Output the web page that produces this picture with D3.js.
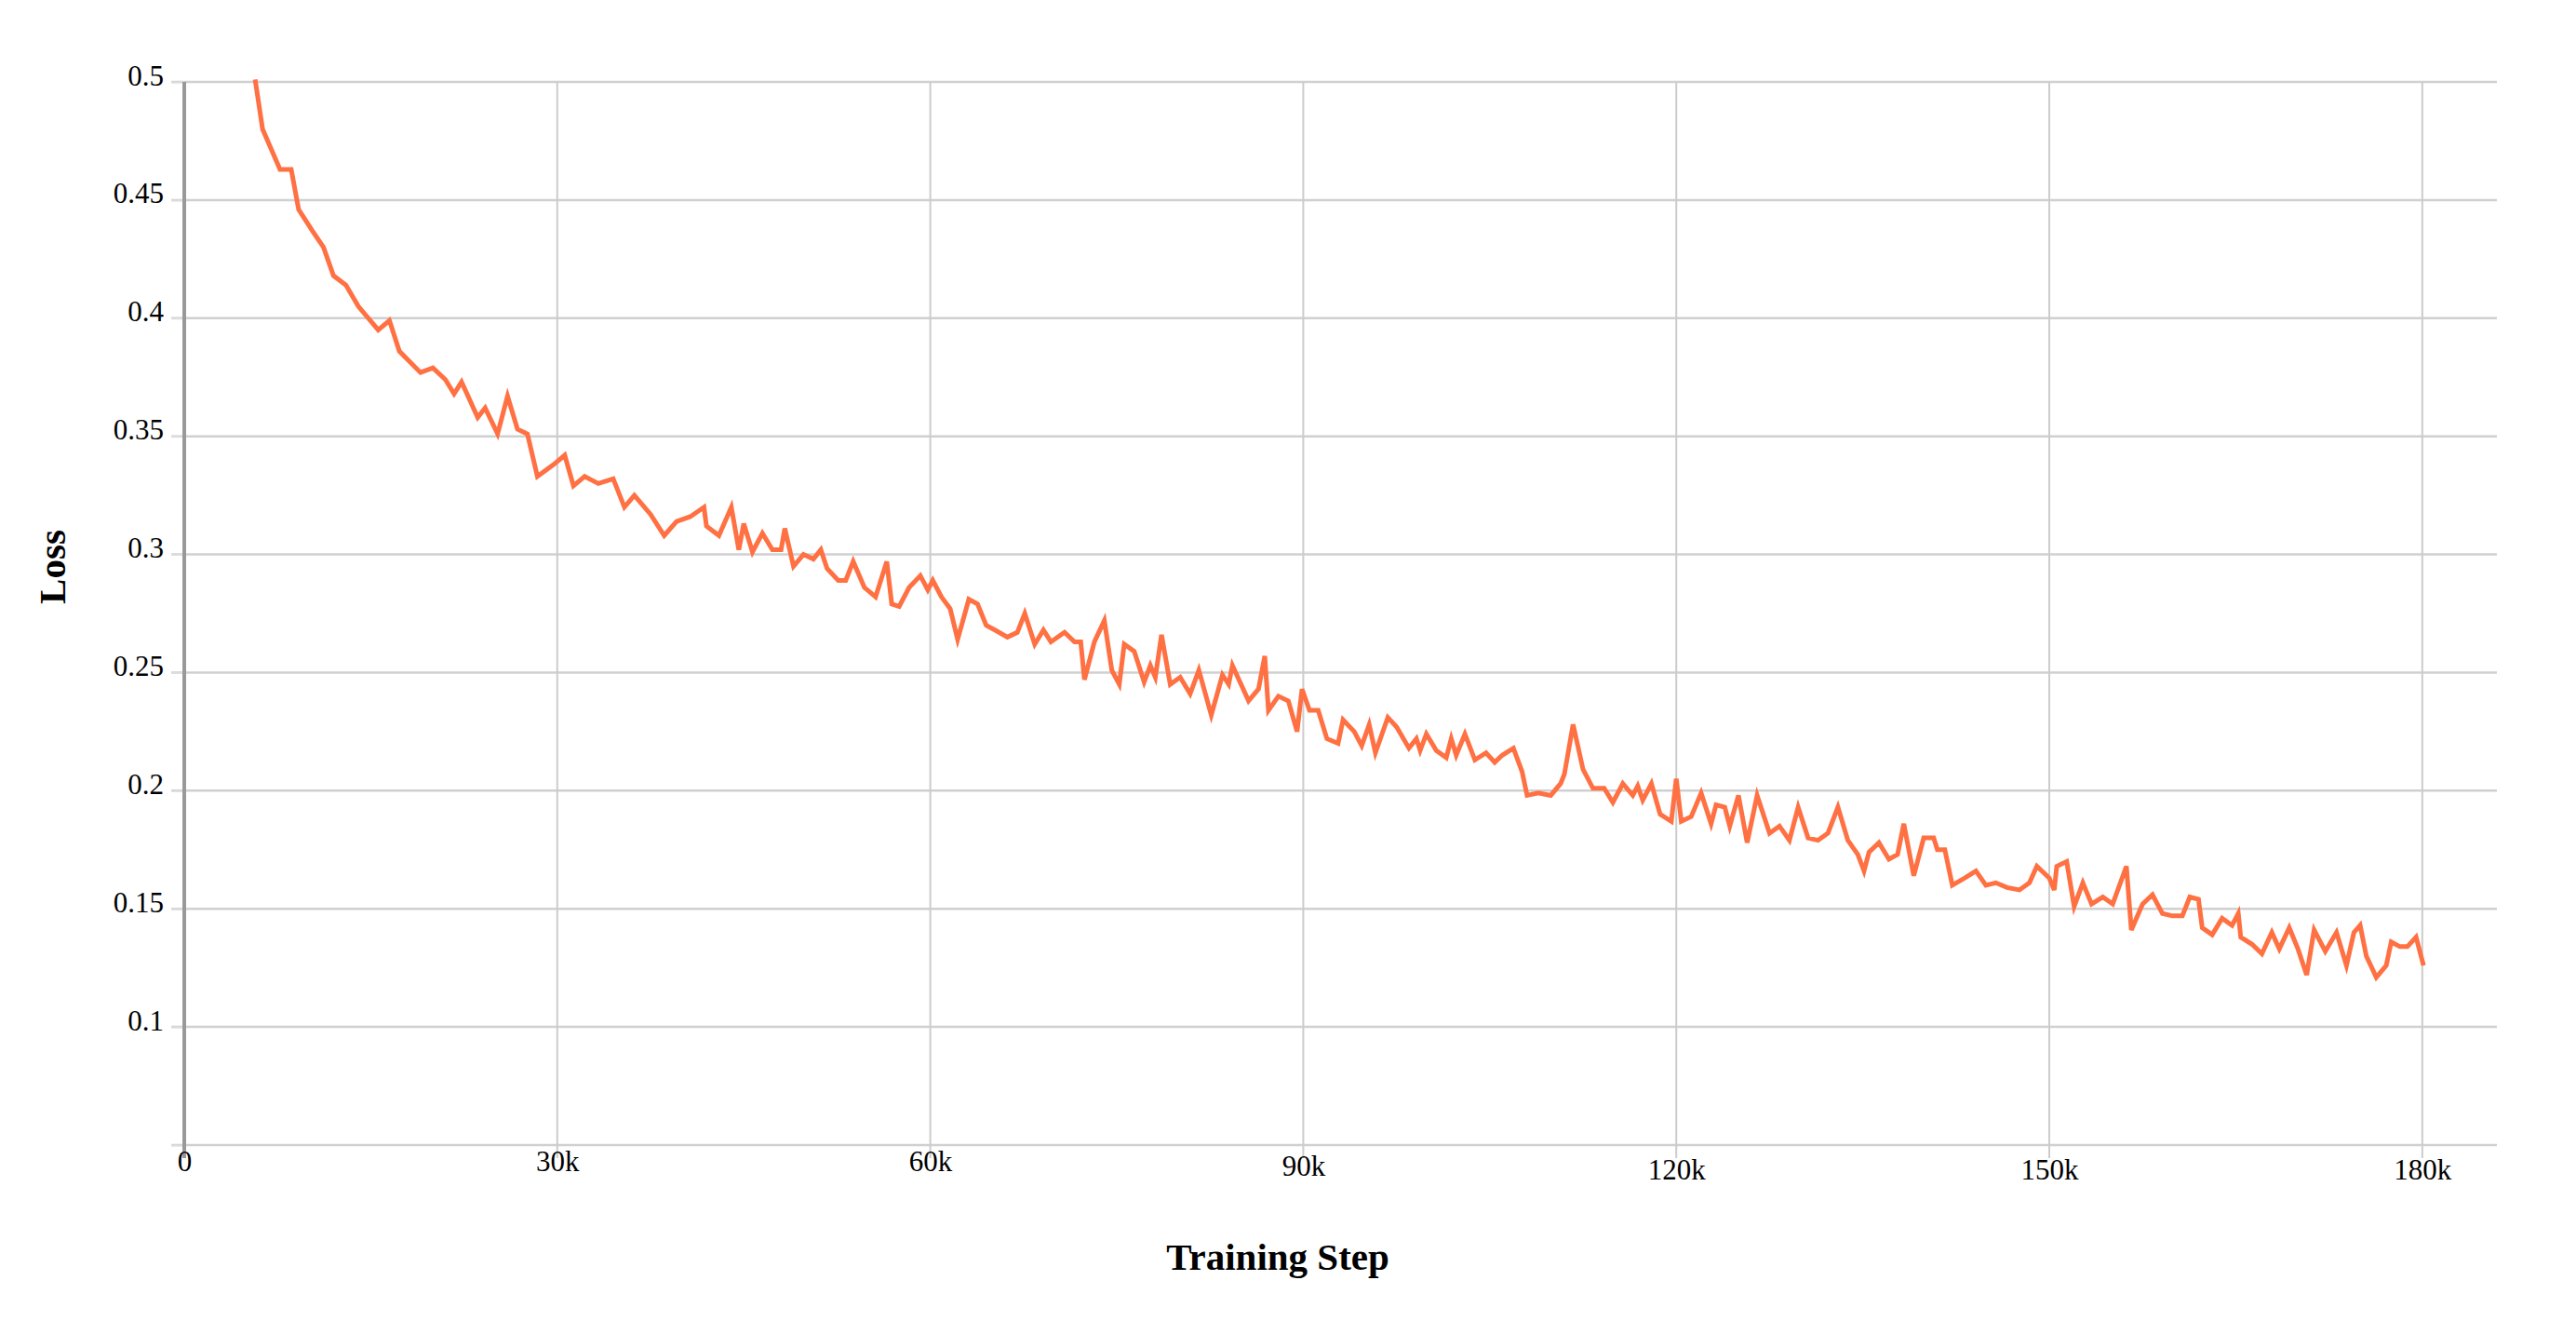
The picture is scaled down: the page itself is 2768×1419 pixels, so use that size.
<!DOCTYPE html>
<html>
<head>
<meta charset="utf-8">
<script src="https://cdn.jsdelivr.net/npm/d3@7"></script>
<style>
  body { margin: 0; background: #fff; }
  text { font-family: "Liberation Serif", "Times New Roman", serif; }
</style>
</head>
<body>
<div id="chart"></div>
<script>
// Training steps (thousands) and loss values
var steps = [5.7,6.3,7.7,8.6,9.2,10.3,11.2,12,13,14,15.6,16.5,17.3,19,20,21,21.7,22.3,23.6,24.2,25.2,26,26.8,27.6,28.4,29.7,30.6,31.3,32.2,33.3,34.5,35.4,36.2,37.5,38.6,39.6,40.7,41.8,42,43,44,44.6,45,45.7,46.5,47.3,48,48.3,49,49.8,50.6,51.2,51.7,52.6,53.2,53.8,54.7,55.6,56.5,56.9,57.5,58.3,59.2,59.8,60.2,60.9,61.6,62.2,63.1,63.8,64.5,65.2,66.2,67,67.6,68.4,69.1,69.7,70.8,71.6,72.1,72.4,73.2,74,74.6,75.2,75.6,76.4,77.2,77.7,78.1,78.6,79.3,80.1,80.9,81.6,82.6,83.5,84,84.3,85.6,86.4,86.9,87.2,88,88.8,89.5,89.9,90.5,91.2,91.9,92.8,93.2,94.1,94.7,95.3,95.8,96.8,97.5,98.5,99.1,99.4,99.9,100.7,101.5,101.9,102.3,103,103.8,104.7,105.4,106,106.9,107.6,108,108.9,109.9,110.7,111,111.7,112.5,113.3,114.2,114.9,115.7,116.5,116.9,117.3,118,118.7,119.6,120,120.4,121.2,122,122.8,123.2,123.9,124.3,125,125.7,126.5,127.5,128.3,129.1,129.8,130.6,131.4,132.2,133,133.8,134.6,135.1,135.5,136.3,137.1,137.8,138.3,139.1,139.9,140.7,141,141.6,142.2,143.2,144.1,144.9,145.7,146.6,147.6,148.4,149,150,150.4,150.6,151.4,152,152.7,153.4,154.3,155.1,156.2,156.6,157.5,158.3,159.1,159.9,160.7,161.3,162,162.3,163.1,163.9,164.7,165.2,165.4,166.3,167.1,167.9,168.5,169.3,170,170.7,171.3,172.2,173.1,173.9,174.5,175,175.5,176.3,177.1,177.5,178.2,178.8,179.5,180.1];
var losses = [0.501,0.48,0.463,0.463,0.446,0.437,0.43,0.418,0.414,0.405,0.395,0.399,0.386,0.377,0.379,0.374,0.368,0.373,0.358,0.362,0.351,0.367,0.353,0.351,0.333,0.338,0.342,0.329,0.333,0.330,0.332,0.320,0.325,0.317,0.308,0.314,0.316,0.320,0.312,0.308,0.320,0.302,0.313,0.301,0.309,0.302,0.302,0.311,0.295,0.300,0.298,0.302,0.294,0.289,0.289,0.297,0.286,0.282,0.297,0.279,0.278,0.286,0.291,0.285,0.289,0.282,0.277,0.264,0.281,0.279,0.270,0.268,0.265,0.267,0.275,0.262,0.268,0.263,0.267,0.263,0.263,0.247,0.263,0.272,0.251,0.245,0.262,0.259,0.246,0.253,0.248,0.266,0.245,0.248,0.241,0.251,0.232,0.249,0.245,0.253,0.238,0.243,0.257,0.234,0.240,0.238,0.225,0.243,0.234,0.234,0.222,0.220,0.230,0.225,0.219,0.228,0.216,0.231,0.227,0.218,0.222,0.217,0.224,0.217,0.214,0.222,0.215,0.224,0.213,0.216,0.212,0.215,0.218,0.208,0.198,0.199,0.198,0.203,0.207,0.228,0.209,0.201,0.201,0.195,0.203,0.198,0.202,0.196,0.203,0.190,0.187,0.205,0.187,0.189,0.199,0.186,0.194,0.193,0.185,0.198,0.178,0.198,0.182,0.185,0.179,0.193,0.180,0.179,0.182,0.193,0.179,0.173,0.166,0.174,0.178,0.171,0.173,0.186,0.164,0.180,0.180,0.175,0.175,0.160,0.163,0.166,0.160,0.161,0.159,0.158,0.161,0.168,0.163,0.158,0.168,0.170,0.151,0.161,0.152,0.155,0.152,0.168,0.141,0.152,0.156,0.148,0.147,0.147,0.155,0.154,0.142,0.139,0.146,0.143,0.148,0.138,0.135,0.131,0.140,0.133,0.142,0.133,0.122,0.141,0.132,0.140,0.126,0.140,0.143,0.130,0.121,0.126,0.136,0.134,0.134,0.138,0.126];
var xTicks = [0, 30, 60, 90, 120, 150, 180];
var yTicks = [0.05, 0.1, 0.15, 0.2, 0.25, 0.3, 0.35, 0.4, 0.45, 0.5];

var svgWidth = 2768;
var svgHeight = 1419;
var margin = { top: 88, right: 85, bottom: 189, left: 198 };
var width = svgWidth - margin.left - margin.right;
var height = svgHeight - margin.top - margin.bottom;

var svg = d3.select("#chart").append("svg")
  .attr("width", svgWidth)
  .attr("height", svgHeight);

var chartGroup = svg.append("g")
  .attr("transform", `translate(${margin.left}, ${margin.top})`);

var xScale = d3.scaleLinear().domain([0, 186]).range([0, width]);
var yScale = d3.scaleLinear().domain([0.05, 0.5]).range([height, 0]);

// Horizontal grid
chartGroup.selectAll(".hgrid")
  .data(yTicks)
  .enter()
  .append("line")
  .attr("x1", -14).attr("x2", width)
  .attr("y1", d => yScale(d)).attr("y2", d => yScale(d))
  .attr("stroke", "#d0d0d0")
  .attr("stroke-width", 2.5);

// Vertical grid
chartGroup.selectAll(".vgrid")
  .data(xTicks.slice(1))
  .enter()
  .append("line")
  .attr("x1", d => xScale(d)).attr("x2", d => xScale(d))
  .attr("y1", 0).attr("y2", height + 14)
  .attr("stroke", "#cccccc")
  .attr("stroke-width", 2);

// Y axis
var leftAxis = d3.axisLeft(yScale)
  .tickValues(yTicks)
  .tickSize(14)
  .tickPadding(8)
  .tickFormat(d => d === 0.05 ? "" : d3.format("")(+d.toFixed(2)));
var yAxis = chartGroup.append("g").call(leftAxis);
yAxis.select(".domain").remove();
yAxis.selectAll(".tick line").attr("stroke", "#dddddd").attr("stroke-width", 2);
yAxis.selectAll("text")
  .attr("font-family", "Liberation Serif")
  .attr("font-size", 31)
  .attr("fill", "#000")
  .attr("dy", "0.1em");

chartGroup.append("line")
  .attr("x1", 0).attr("x2", 0)
  .attr("y1", 0).attr("y2", height + 14)
  .attr("stroke", "#999")
  .attr("stroke-width", 4);

// X axis
var bottomAxis = d3.axisBottom(xScale)
  .tickValues(xTicks)
  .tickSize(0)
  .tickPadding(28)
  .tickFormat(d => d === 0 ? "0" : d + "k");
var xAxis = chartGroup.append("g")
  .attr("transform", `translate(0, ${height})`)
  .call(bottomAxis);
xAxis.select(".domain").remove();
xAxis.selectAll("text")
  .attr("font-family", "Liberation Serif")
  .attr("font-size", 31)
  .attr("fill", "#000")
  .attr("dy", (d, i) => (i < 3 ? 0 : i === 3 ? 5 : 9) + "px");

// Loss line
var line = d3.line()
  .x((d, i) => xScale(steps[i]))
  .y(d => yScale(d));

chartGroup.append("path")
  .datum(losses)
  .attr("d", line)
  .attr("fill", "none")
  .attr("stroke", "#ff7043")
  .attr("stroke-width", 5)
  .attr("stroke-linejoin", "miter");

// Axis titles
svg.append("text")
  .attr("x", 1373)
  .attr("y", 1364)
  .attr("text-anchor", "middle")
  .attr("font-weight", "bold")
  .attr("font-size", 41)
  .text("Training Step");

svg.append("text")
  .attr("transform", "translate(70, 609) rotate(-90)")
  .attr("text-anchor", "middle")
  .attr("font-weight", "bold")
  .attr("font-size", 41)
  .text("Loss");
</script>
</body>
</html>
